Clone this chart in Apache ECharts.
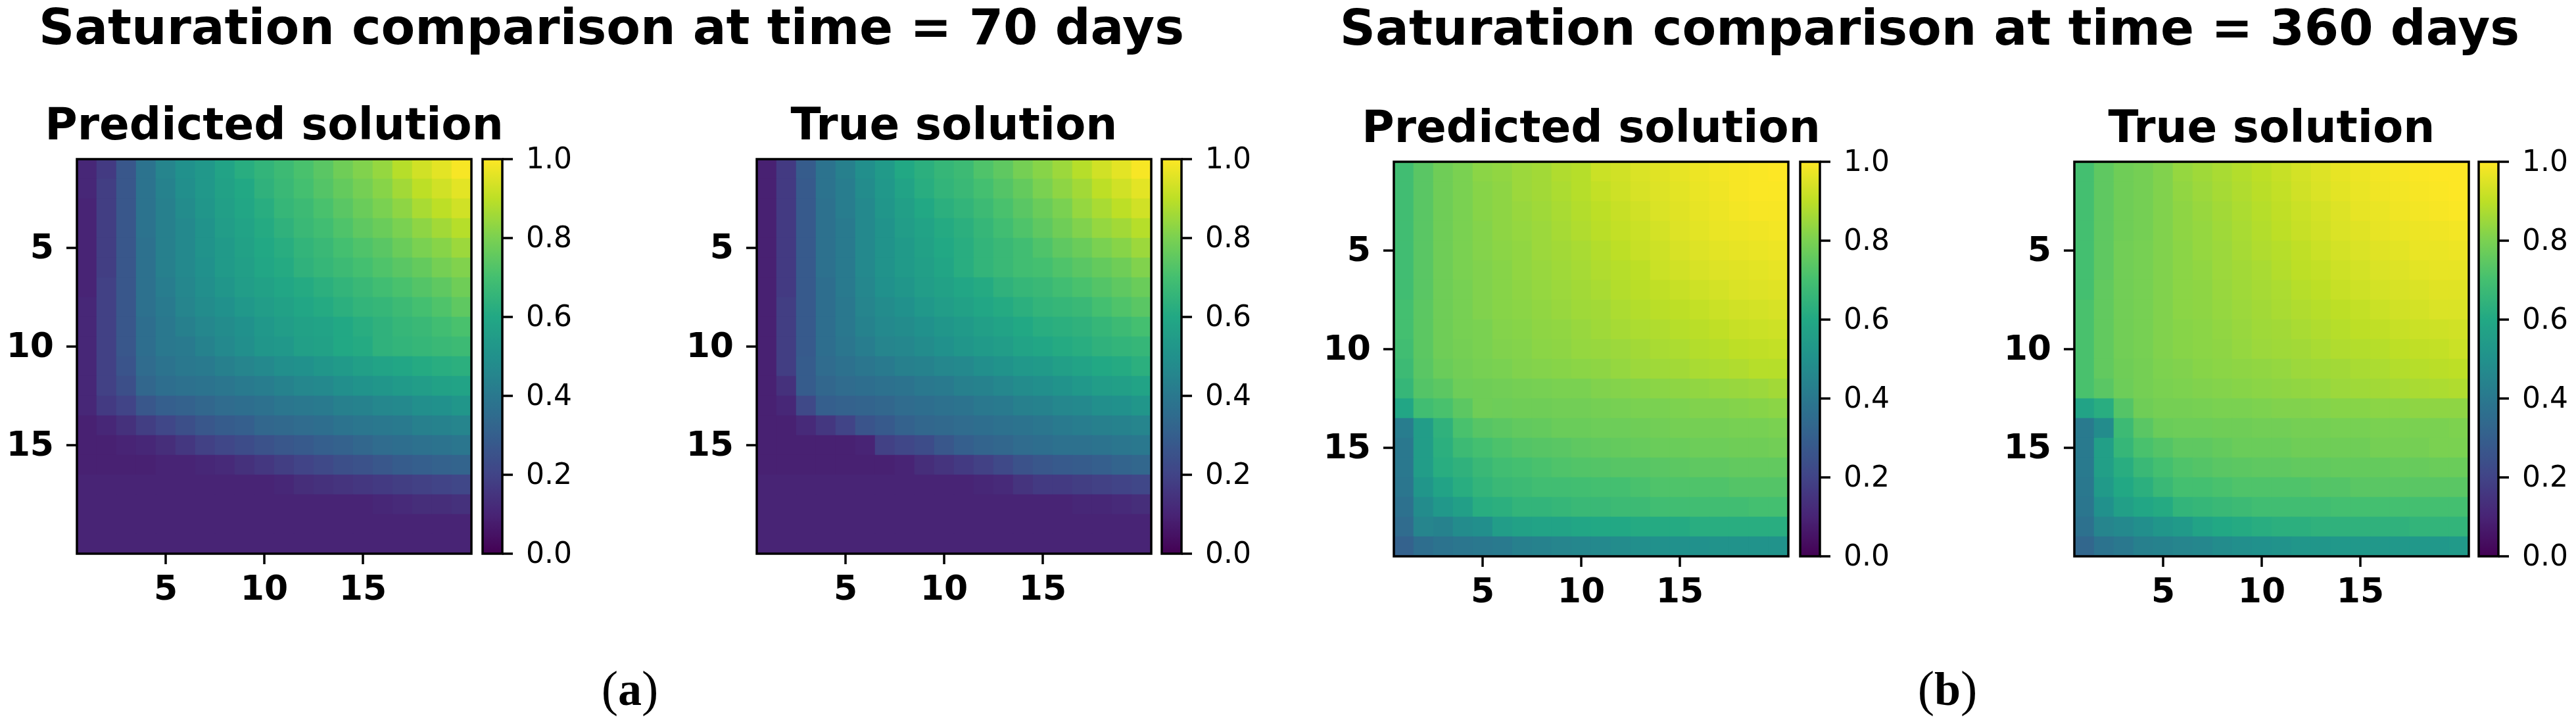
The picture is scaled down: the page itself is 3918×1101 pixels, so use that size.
<!DOCTYPE html>
<html><head><meta charset="utf-8">
<style>html,body{margin:0;padding:0;background:#fff}#c{width:3918px;height:1101px}</style>
<script src="https://cdn.jsdelivr.net/npm/echarts@6/dist/echarts.min.js"></script>
</head><body><div id="c"></div>
<script>
const categories = [1,2,3,4,5,6,7,8,9,10,11,12,13,14,15,16,17,18,19,20];
const tickLabels = [5,10,15];
const colorbarTicks = [0,0.2,0.4,0.6,0.8,1];
const viridis = ['#440154','#482475','#414487','#355f8d','#2a788e','#21918c','#22a884','#44bf70','#7ad151','#bddf26','#fde725'];
const mainTitles = ['Saturation comparison at time = 70 days','Saturation comparison at time = 360 days'];
const panelTitles = ['Predicted solution','True solution','Predicted solution','True solution'];

const predicted70 = [
[.11,.17,.27,.38,.45,.50,.53,.58,.62,.65,.68,.71,.74,.78,.81,.84,.89,.93,.96,.99],
[.11,.18,.27,.38,.44,.49,.53,.57,.60,.64,.67,.70,.73,.76,.79,.82,.86,.90,.93,.96],
[.10,.18,.27,.38,.43,.48,.52,.56,.59,.62,.66,.68,.71,.74,.77,.80,.83,.87,.90,.93],
[.10,.18,.27,.38,.43,.47,.51,.55,.58,.61,.64,.67,.69,.72,.75,.77,.80,.83,.86,.89],
[.10,.18,.27,.37,.43,.47,.51,.54,.57,.60,.62,.65,.67,.70,.72,.74,.77,.80,.82,.85],
[.10,.18,.27,.37,.43,.47,.50,.54,.56,.59,.61,.64,.66,.68,.70,.72,.74,.76,.79,.81],
[.10,.19,.27,.37,.42,.46,.49,.52,.55,.57,.59,.61,.63,.65,.67,.69,.71,.73,.75,.78],
[.11,.19,.27,.37,.41,.45,.48,.50,.53,.55,.57,.59,.61,.63,.65,.66,.68,.70,.72,.75],
[.11,.19,.27,.36,.40,.43,.46,.48,.50,.53,.55,.57,.58,.60,.62,.64,.66,.67,.69,.71],
[.11,.19,.27,.36,.40,.41,.44,.47,.49,.52,.53,.56,.57,.60,.61,.64,.65,.66,.67,.68],
[.11,.19,.26,.35,.38,.40,.41,.43,.45,.47,.49,.50,.52,.54,.56,.58,.59,.61,.62,.63],
[.11,.19,.24,.33,.36,.37,.38,.39,.41,.42,.44,.46,.47,.49,.51,.52,.54,.55,.57,.58],
[.11,.17,.20,.27,.30,.31,.33,.35,.36,.37,.39,.40,.41,.43,.44,.46,.47,.49,.50,.52],
[.09,.11,.14,.18,.21,.24,.27,.29,.30,.33,.34,.35,.36,.38,.39,.40,.41,.43,.44,.45],
[.09,.09,.10,.11,.13,.16,.19,.21,.23,.25,.27,.28,.30,.31,.33,.35,.36,.37,.38,.39],
[.09,.09,.09,.09,.10,.10,.11,.12,.14,.16,.18,.20,.22,.24,.25,.27,.29,.30,.31,.32],
[.10,.10,.10,.10,.10,.10,.10,.10,.10,.10,.11,.13,.14,.15,.16,.17,.18,.19,.20,.21],
[.10,.10,.10,.10,.10,.10,.10,.10,.10,.10,.10,.10,.10,.10,.10,.11,.12,.13,.13,.14],
[.10,.10,.10,.10,.10,.10,.10,.10,.10,.10,.10,.10,.10,.10,.10,.10,.10,.10,.10,.10],
[.10,.10,.10,.10,.10,.10,.10,.10,.10,.10,.10,.10,.10,.10,.10,.10,.10,.10,.10,.10]];

const true70 = [
[.09,.17,.29,.38,.43,.49,.54,.60,.63,.66,.68,.72,.75,.79,.82,.85,.89,.93,.96,.99],
[.09,.17,.28,.38,.42,.48,.53,.58,.62,.65,.67,.70,.73,.76,.80,.83,.86,.90,.93,.96],
[.09,.17,.28,.37,.42,.47,.52,.56,.60,.63,.65,.68,.71,.74,.77,.80,.84,.87,.90,.93],
[.09,.17,.28,.37,.41,.47,.51,.55,.58,.61,.63,.66,.69,.72,.75,.78,.81,.84,.86,.89],
[.09,.17,.28,.37,.41,.47,.51,.54,.57,.60,.62,.65,.67,.69,.72,.75,.77,.80,.82,.85],
[.09,.17,.28,.37,.41,.47,.51,.54,.56,.585,.62,.65,.67,.69,.70,.72,.74,.76,.78,.81],
[.09,.17,.28,.36,.41,.46,.50,.52,.55,.57,.59,.61,.64,.66,.67,.69,.71,.73,.75,.77],
[.09,.18,.28,.36,.40,.45,.48,.50,.53,.55,.57,.59,.61,.63,.65,.66,.67,.70,.72,.74],
[.09,.18,.28,.36,.40,.44,.47,.48,.50,.52,.54,.56,.58,.60,.62,.63,.64,.66,.68,.70],
[.09,.18,.28,.36,.39,.42,.45,.46,.48,.50,.52,.54,.55,.58,.59,.61,.62,.64,.65,.66],
[.09,.18,.29,.35,.37,.39,.41,.43,.44,.46,.47,.49,.51,.53,.54,.56,.58,.60,.61,.63],
[.09,.14,.29,.33,.35,.36,.37,.38,.40,.41,.43,.44,.46,.48,.49,.51,.53,.55,.56,.58],
[.09,.11,.22,.30,.31,.32,.33,.35,.36,.37,.38,.40,.41,.43,.44,.46,.47,.49,.50,.52],
[.09,.09,.12,.16,.20,.26,.28,.31,.33,.34,.35,.36,.37,.38,.39,.41,.42,.43,.44,.45],
[.09,.09,.09,.09,.09,.10,.19,.21,.23,.27,.30,.32,.33,.35,.36,.37,.37,.38,.39,.40],
[.09,.09,.09,.09,.09,.09,.09,.10,.13,.15,.17,.19,.22,.25,.27,.28,.29,.30,.32,.33],
[.10,.10,.10,.10,.10,.10,.10,.10,.10,.10,.10,.11,.12,.15,.17,.17,.18,.19,.20,.21],
[.10,.10,.10,.10,.10,.10,.10,.10,.10,.10,.10,.10,.10,.10,.10,.10,.11,.11,.12,.13],
[.10,.10,.10,.10,.10,.10,.10,.10,.10,.10,.10,.10,.10,.10,.10,.10,.10,.10,.10,.10],
[.10,.10,.10,.10,.10,.10,.10,.10,.10,.10,.10,.10,.10,.10,.10,.10,.10,.10,.10,.10]];

const predicted360 = [
[.69,.74,.78,.80,.825,.835,.85,.86,.88,.89,.92,.93,.945,.955,.965,.975,.985,.99,.995,1.0],
[.69,.74,.78,.80,.82,.83,.85,.86,.875,.89,.91,.925,.94,.95,.96,.97,.98,.99,.995,.995],
[.69,.74,.78,.80,.82,.83,.845,.855,.87,.885,.90,.915,.93,.945,.955,.965,.975,.985,.99,.99],
[.69,.74,.78,.80,.815,.83,.84,.85,.865,.88,.895,.91,.92,.935,.95,.96,.97,.975,.98,.985],
[.69,.74,.78,.80,.815,.825,.835,.85,.86,.87,.885,.90,.915,.925,.94,.95,.96,.965,.97,.975],
[.69,.74,.78,.80,.81,.82,.835,.845,.855,.865,.88,.89,.90,.92,.93,.94,.95,.955,.96,.965],
[.69,.74,.78,.795,.81,.82,.83,.84,.85,.86,.87,.885,.895,.905,.915,.925,.935,.945,.95,.955],
[.70,.745,.78,.795,.81,.82,.825,.835,.845,.855,.86,.875,.885,.895,.90,.91,.92,.93,.935,.94],
[.70,.745,.78,.795,.80,.815,.82,.83,.835,.845,.855,.865,.875,.88,.89,.895,.905,.915,.92,.925],
[.69,.745,.78,.79,.80,.81,.815,.825,.83,.84,.845,.85,.86,.87,.875,.885,.89,.90,.905,.91],
[.68,.74,.77,.785,.795,.80,.81,.815,.82,.825,.83,.84,.85,.855,.86,.87,.875,.88,.89,.89],
[.66,.73,.745,.775,.78,.785,.79,.795,.80,.80,.81,.815,.82,.825,.83,.835,.84,.845,.85,.86],
[.59,.69,.71,.745,.78,.775,.78,.78,.785,.785,.79,.795,.80,.80,.805,.81,.81,.815,.82,.825],
[.42,.55,.64,.71,.735,.745,.755,.76,.77,.77,.775,.775,.78,.785,.79,.79,.79,.795,.795,.80],
[.40,.55,.63,.68,.70,.715,.73,.735,.74,.75,.755,.76,.765,.77,.77,.775,.775,.78,.78,.785],
[.40,.55,.62,.64,.67,.69,.70,.71,.72,.725,.73,.735,.735,.74,.745,.75,.75,.755,.755,.755],
[.39,.52,.58,.62,.65,.67,.68,.69,.69,.695,.70,.70,.71,.72,.72,.72,.72,.73,.73,.73],
[.37,.48,.53,.56,.62,.63,.65,.65,.66,.67,.67,.68,.68,.69,.69,.69,.69,.69,.70,.70],
[.35,.45,.44,.48,.49,.55,.57,.58,.58,.59,.60,.60,.61,.61,.61,.62,.62,.62,.62,.62],
[.31,.36,.38,.39,.40,.41,.43,.44,.45,.46,.47,.48,.49,.50,.50,.50,.51,.51,.51,.51]];

const true360 = [
[.70,.75,.78,.79,.81,.84,.855,.87,.885,.90,.915,.935,.95,.965,.975,.985,.99,.995,1.0,1.0],
[.70,.75,.78,.79,.81,.835,.85,.865,.88,.895,.91,.93,.945,.96,.97,.98,.985,.99,.995,1.0],
[.70,.75,.78,.79,.81,.83,.845,.86,.875,.89,.905,.92,.935,.95,.965,.97,.98,.985,.99,.995],
[.70,.75,.78,.79,.81,.83,.84,.855,.87,.885,.90,.915,.93,.945,.955,.965,.97,.975,.98,.985],
[.70,.75,.785,.795,.81,.825,.84,.85,.865,.88,.89,.905,.92,.935,.945,.955,.96,.97,.97,.975],
[.70,.75,.785,.795,.81,.825,.835,.85,.86,.87,.885,.90,.91,.925,.935,.945,.95,.96,.965,.965],
[.70,.755,.785,.795,.81,.825,.83,.845,.855,.865,.875,.89,.90,.915,.925,.935,.94,.945,.955,.955],
[.71,.755,.785,.795,.81,.825,.83,.84,.85,.86,.87,.88,.89,.90,.91,.92,.93,.935,.945,.945],
[.71,.755,.785,.795,.81,.82,.825,.835,.845,.855,.86,.87,.88,.89,.90,.905,.915,.92,.925,.93],
[.71,.755,.785,.795,.81,.82,.825,.83,.84,.85,.855,.86,.87,.88,.885,.89,.90,.905,.91,.92],
[.71,.755,.78,.79,.805,.81,.82,.825,.83,.835,.84,.85,.855,.86,.87,.875,.885,.89,.895,.90],
[.71,.74,.775,.79,.80,.805,.81,.815,.82,.825,.83,.835,.84,.85,.855,.86,.865,.87,.875,.88],
[.58,.62,.73,.78,.79,.79,.795,.80,.80,.805,.81,.81,.815,.82,.82,.825,.825,.83,.83,.83],
[.41,.48,.68,.74,.77,.775,.775,.78,.78,.785,.785,.79,.79,.795,.795,.80,.80,.80,.80,.805],
[.41,.56,.66,.71,.73,.75,.75,.76,.77,.77,.77,.78,.78,.78,.78,.79,.79,.79,.80,.80],
[.41,.56,.62,.67,.70,.72,.73,.74,.745,.75,.75,.755,.755,.76,.76,.76,.765,.765,.77,.77],
[.40,.54,.60,.63,.67,.70,.70,.71,.72,.72,.72,.72,.73,.73,.74,.74,.74,.74,.74,.74],
[.39,.50,.56,.59,.61,.65,.66,.67,.68,.69,.69,.69,.69,.70,.70,.70,.70,.70,.70,.70],
[.37,.45,.47,.49,.52,.54,.58,.60,.61,.62,.63,.63,.64,.64,.64,.64,.64,.65,.65,.65],
[.33,.38,.40,.43,.44,.45,.46,.48,.49,.50,.51,.52,.52,.53,.53,.53,.53,.53,.53,.54]];

const matrices = [predicted70,true70,predicted360,true360];
const FONT = 'DejaVu Sans';
// layout: [plot left, plot top, colorbar left]
const panels = [[117,242,734],[1151,242,1767],[2120,246,2738],[3155,246,3770]];
const SIZE = 600, CBW = 30, SP = 3.5;

const grid=[],xAxis=[],yAxis=[],series=[],visualMap=[],title=[];
const tickFn = (i,v)=>tickLabels.includes(+v);
const black = {color:'#000',width:SP};
panels.forEach((p,k)=>{
  const gi = grid.length;
  grid.push({left:p[0],top:p[1],width:SIZE,height:SIZE,show:true,z:10,backgroundColor:'transparent',borderColor:'#000',borderWidth:SP,containLabel:false});
  xAxis.push({gridIndex:gi,type:'category',data:categories,position:'bottom',
    axisLine:{show:false},axisTick:{show:true,alignWithLabel:true,interval:tickFn,length:16,lineStyle:black},
    axisLabel:{interval:tickFn,fontFamily:FONT,fontWeight:'bold',fontSize:52,color:'#000',margin:30},splitLine:{show:false}});
  yAxis.push({gridIndex:gi,type:'category',data:categories,inverse:true,
    axisLine:{show:false},axisTick:{show:true,alignWithLabel:true,interval:tickFn,length:16,lineStyle:black},
    axisLabel:{interval:tickFn,fontFamily:FONT,fontWeight:'bold',fontSize:52,color:'#000',margin:35,
      formatter:v=>'{n|'+v+'}',rich:{n:{fontFamily:FONT,fontWeight:'bold',fontSize:52,color:'#000',padding:[4,0,0,0]}}},splitLine:{show:false}});
  const data=[];
  matrices[k].forEach((row,r)=>row.forEach((v,c)=>data.push([c,r,v])));
  series.push({type:'heatmap',xAxisIndex:gi,yAxisIndex:gi,data,progressive:0,animation:false,itemStyle:{borderWidth:0},emphasis:{disabled:true}});
  visualMap.push({type:'continuous',seriesIndex:k,min:0,max:1,show:true,calculable:false,realtime:false,
    inRange:{color:viridis},left:p[2],top:p[1],itemWidth:CBW,itemHeight:SIZE,padding:0,text:null,orient:'vertical',z:4});
  const ci = grid.length;
  grid.push({left:p[2],top:p[1],width:CBW,height:SIZE,show:true,z:10,backgroundColor:'transparent',borderColor:'#000',borderWidth:SP});
  xAxis.push({gridIndex:ci,type:'category',data:[''],axisLine:{show:false},axisTick:{show:false},axisLabel:{show:false}});
  yAxis.push({gridIndex:ci,type:'value',min:0,max:1,interval:0.2,position:'right',
    axisLine:{show:false},axisTick:{show:true,length:16,lineStyle:black},splitLine:{show:false},
    axisLabel:{fontFamily:FONT,fontSize:44,color:'#000',margin:36,
      formatter:v=>'{n|'+v.toFixed(1)+'}',rich:{n:{fontFamily:FONT,fontSize:44,color:'#000',padding:[6,0,0,0]}}}});
  title.push({text:panelTitles[k],left:p[0]+SIZE/2,top:p[1]-84,textAlign:'center',padding:0,
    textStyle:{fontFamily:FONT,fontWeight:'bold',fontSize:67.5,color:'#000',lineHeight:72}});
});
title.push({text:mainTitles[0],left:930,top:5,textAlign:'center',padding:0,textStyle:{fontFamily:FONT,fontWeight:'bold',fontSize:75.3,color:'#000',lineHeight:84}});
title.push({text:mainTitles[1],left:2935,top:6,textAlign:'center',padding:0,textStyle:{fontFamily:FONT,fontWeight:'bold',fontSize:75.3,color:'#000',lineHeight:84}});
const cap = (t)=>({text:'{p|(}{b|'+t+'}{p|)}',textStyle:{rich:{p:{fontFamily:'Liberation Serif',fontWeight:'normal',fontSize:76,color:'#000'},b:{fontFamily:'Liberation Serif',fontWeight:'bold',fontSize:72,color:'#000'}}}});
title.push(Object.assign(cap('a'),{left:958,top:1015,textAlign:'center',padding:0}));
title.push(Object.assign(cap('b'),{left:2962,top:1015,textAlign:'center',padding:0}));

const chart = echarts.init(document.getElementById('c'),null,{renderer:'canvas'});
chart.setOption({animation:false,backgroundColor:'#fff',title,grid,xAxis,yAxis,series,visualMap,tooltip:{show:false}});
</script></body></html>
